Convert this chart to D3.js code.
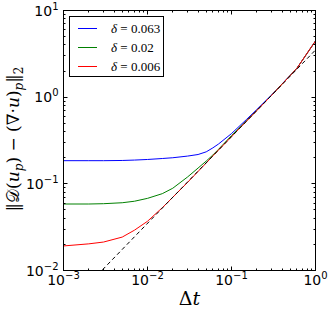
<!DOCTYPE html>
<html lang="en">
<head>
<meta charset="UTF-8">
<title>Error vs time step</title>
<script src="https://d3js.org/d3.v7.min.js"></script>
<style>
  body { margin: 0; background: #fff; }
  text { fill: #000; }
</style>
</head>
<body>
<script>
// data
var dt = [0.001, 0.002, 0.003, 0.005, 0.007, 0.01, 0.015, 0.02, 0.03, 0.04, 0.05, 0.06, 0.07, 0.1, 0.15, 0.2, 0.3, 0.6, 1];
var err063 = [0.185, 0.185, 0.185, 0.186, 0.188, 0.191, 0.196, 0.2, 0.209, 0.218, 0.234, 0.26, 0.288, 0.38, 0.55, 0.72, 1.06, 2.15, 4.45];
var err02 = [0.0585, 0.0585, 0.059, 0.0605, 0.063, 0.068, 0.077, 0.089, 0.12, 0.152, 0.183, 0.215, 0.25, 0.36, 0.53, 0.705, 1.05, 2.15, 4.45];
var err006 = [0.0192, 0.0203, 0.0213, 0.0243, 0.0292, 0.037, 0.053, 0.07, 0.104, 0.139, 0.174, 0.21, 0.245, 0.35, 0.525, 0.7, 1.05, 2.15, 4.45];
var refX = [0.001, 1];
var refY = [0.0035, 3.5];
var labels = ["0.063", "0.02", "0.006"];
var colors = ["#0000ff", "#008000", "#ff0000"];
var xTicks = [1e-3, 1e-2, 1e-1, 1e0];
var yTicks = [1e-2, 1e-1, 1e0, 1e1];

var width = 332, height = 315;
var pl = 63.5, pr = 315.5, pt = 10.5, pb = 270.5;

var svg = d3.select("body").append("svg")
    .attr("width", width)
    .attr("height", height)
    .style("font-family", "'DejaVu Sans', sans-serif");

var x = d3.scaleLog().domain([1e-3, 1]).range([pl, pr]);
var y = d3.scaleLog().domain([1e-2, 1e1]).range([pb, pt]);

svg.append("clipPath").attr("id", "clip")
    .append("rect").attr("x", pl).attr("y", pt)
    .attr("width", pr - pl).attr("height", pb - pt);

var plot = svg.append("g").attr("clip-path", "url(#clip)");
var line = d3.line().x(d => x(d[0])).y(d => y(d[1]));

[err063, err02, err006].forEach(function (s, i) {
    plot.append("path")
        .datum(dt.map((t, j) => [t, s[j]]))
        .attr("d", line)
        .attr("fill", "none")
        .attr("stroke", colors[i])
        .attr("stroke-width", 1);
});

plot.append("path")
    .datum(refX.map((t, j) => [t, refY[j]]))
    .attr("d", line)
    .attr("fill", "none")
    .attr("stroke", "#000")
    .attr("stroke-width", 1)
    .attr("stroke-dasharray", "4,3");

// ticks, inside, on every side
function minors(scale) {
    var out = [];
    var d = scale.domain();
    for (var e = Math.log10(d[0]); e < Math.log10(d[1]); e++) {
        for (var k = 2; k < 10; k++) out.push(k * Math.pow(10, e));
    }
    return out;
}
var tk = svg.append("g").attr("stroke", "#000").attr("stroke-width", 1);
function xtick(v, len) {
    var px = Math.round(x(v) - 0.5) + 0.5;
    tk.append("line").attr("x1", px).attr("x2", px).attr("y1", pb).attr("y2", pb - len);
    tk.append("line").attr("x1", px).attr("x2", px).attr("y1", pt).attr("y2", pt + len);
}
function ytick(v, len) {
    var py = Math.round(y(v) - 0.5) + 0.5;
    tk.append("line").attr("y1", py).attr("y2", py).attr("x1", pl).attr("x2", pl + len);
    tk.append("line").attr("y1", py).attr("y2", py).attr("x1", pr).attr("x2", pr - len);
}
xTicks.forEach(v => xtick(v, 4));
minors(x).forEach(v => xtick(v, 2));
yTicks.forEach(v => ytick(v, 4));
minors(y).forEach(v => ytick(v, 2));

svg.append("rect")
    .attr("x", pl).attr("y", pt)
    .attr("width", pr - pl).attr("height", pb - pt)
    .attr("fill", "none").attr("stroke", "#000").attr("stroke-width", 1);

function expo(v) {
    return String(Math.round(Math.log10(v))).replace("-", "\u2212");
}

xTicks.forEach(function (v) {
    var t = svg.append("text")
        .attr("x", x(v)).attr("y", 285)
        .attr("text-anchor", "middle")
        .attr("font-size", 14);
    t.append("tspan").text("10");
    t.append("tspan").attr("dy", -6).attr("font-size", 10).text(expo(v));
});

yTicks.forEach(function (v) {
    var t = svg.append("text")
        .attr("x", pl - 5).attr("y", y(v) + 5)
        .attr("text-anchor", "end")
        .attr("font-size", 14);
    t.append("tspan").text("10");
    t.append("tspan").attr("dy", -6).attr("font-size", 10).text(expo(v));
});

// axis labels
var xl = svg.append("text")
    .attr("x", (pl + pr) / 2).attr("y", 305)
    .attr("text-anchor", "middle")
    .attr("font-size", 19)
    .style("font-family", "'DejaVu Serif', serif");
xl.append("tspan").text("\u0394");
xl.append("tspan").attr("font-style", "italic").text("t");

var yl = svg.append("text")
    .attr("transform", "translate(19,139) rotate(-90)")
    .attr("text-anchor", "middle")
    .attr("font-size", 17)
    .style("font-family", "'DejaVu Serif', serif");
yl.append("tspan").text("\u2016");
yl.append("tspan").text("\uD835\uDC9F");
yl.append("tspan").text("(");
yl.append("tspan").attr("font-style", "italic").text("u");
yl.append("tspan").attr("font-style", "italic").attr("font-size", 12).attr("dy", 4).text("p");
yl.append("tspan").attr("dy", -4).text(") \u2212 (\u2207\u00b7");
yl.append("tspan").attr("font-style", "italic").text("u");
yl.append("tspan").text(")");
yl.append("tspan").attr("font-style", "italic").attr("font-size", 12).attr("dy", 4).text("p");
yl.append("tspan").attr("dy", -4).text("\u2016");
yl.append("tspan").attr("font-size", 12).attr("dy", 4).text("2");

// legend
var lg = svg.append("g");
lg.append("rect")
    .attr("x", 69.5).attr("y", 16.5).attr("width", 94).attr("height", 60)
    .attr("fill", "#fff").attr("stroke", "#000").attr("stroke-width", 1);
labels.forEach(function (lab, i) {
    var yy = 28.5 + i * 19;
    lg.append("line")
        .attr("x1", 78).attr("x2", 97).attr("y1", yy).attr("y2", yy)
        .attr("stroke", colors[i]).attr("stroke-width", 1);
    var t = lg.append("text")
        .attr("x", 111).attr("y", yy + 4)
        .attr("font-size", 13)
        .style("font-family", "'Liberation Serif', serif");
    t.append("tspan").attr("font-style", "italic").text("\u03b4");
    t.append("tspan").text(" = " + lab);
});
</script>
</body>
</html>
